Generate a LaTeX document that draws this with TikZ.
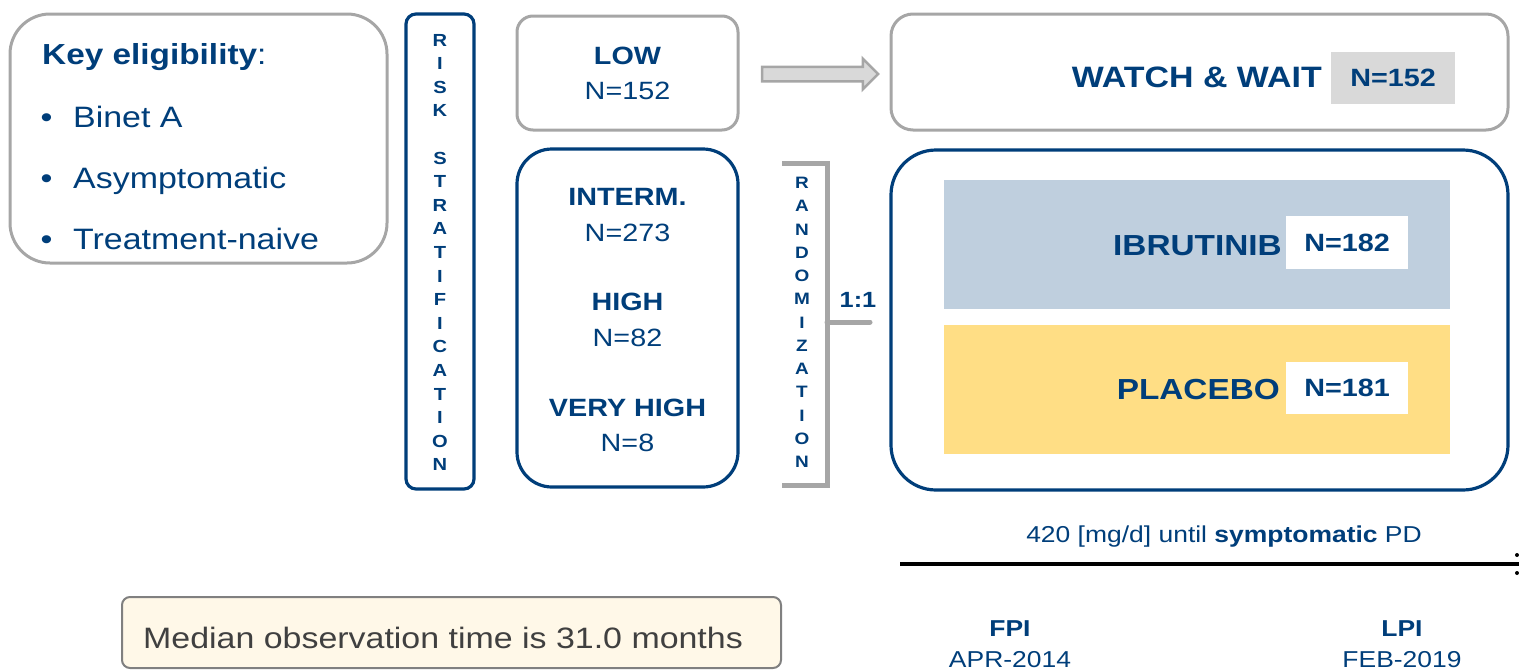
\documentclass[tikz,border=0pt]{standalone}
\usepackage{fontspec}
\setmainfont[FakeStretch=1.15]{Liberation Sans}
\usetikzlibrary{shapes.arrows}
\definecolor{myblue}{RGB}{0,62,122}
\definecolor{grayb}{RGB}{166,166,166}
\definecolor{ltblue}{RGB}{191,207,222}
\definecolor{myyellow}{RGB}{255,222,133}
\definecolor{ngray}{RGB}{217,217,217}
\definecolor{cream}{RGB}{255,248,232}
\definecolor{dgray}{RGB}{64,64,64}
\definecolor{mgray}{RGB}{128,128,128}
\tikzset{
  txt/.style={inner sep=0pt, text=myblue},
  gbox/.style={draw=grayb, line width=3pt, rounded corners=#1, inner sep=0pt},
  bbox/.style={draw=myblue, line width=3.2pt, rounded corners=#1, inner sep=0pt},
  panel/.style={inner sep=0pt, draw=none},
  fA/.style={font=\fontsize{29.5}{34}\selectfont},
  fB/.style={font=\fontsize{25}{30}\selectfont},
  fBb/.style={font=\bfseries\fontsize{25}{30}\selectfont},
  fC/.style={font=\bfseries\fontsize{29.5}{34}\selectfont},
  fD/.style={font=\fontsize{23}{28}\selectfont},
  fDb/.style={font=\bfseries\fontsize{23}{28}\selectfont},
  vlet/.style={inner sep=0pt, text=myblue, font=\bfseries\fontsize{17.5}{20}\selectfont},
}
\begin{document}
\begin{tikzpicture}[x=1pt,y=-1pt]
\useasboundingbox (0,0) rectangle (1519,672);
% Key eligibility
\node[gbox=40pt, minimum width=377pt, minimum height=249pt] (key) at (198.5,138.5) {};
\node[txt, font=\fontsize{29}{34}\selectfont, anchor=base west] (keyt) at (42,64) {\textbf{Key eligibility}:};
\node[txt, fA, anchor=base] (b1) at (46.5,127) {\textbullet};
\node[txt, fA, anchor=base west] (k1) at (73,127) {Binet A};
\node[txt, fA, anchor=base] (b2) at (46.5,188) {\textbullet};
\node[txt, fA, anchor=base west] (k2) at (73,188) {Asymptomatic};
\node[txt, fA, anchor=base] (b3) at (46.5,249) {\textbullet};
\node[txt, fA, anchor=base west] (k3) at (73,249) {Treatment-naive};
% Risk stratification
\node[bbox=10pt, minimum width=68pt, minimum height=475pt] (risk) at (440,251.5) {};
\foreach \l [count=\i from 0] in {R,I,S,K,{},S,T,R,A,T,I,F,I,C,A,T,I,O,N}
  \node[vlet] (risk\i) at (440,40+23.6*\i) {\l};
% Low
\node[gbox=16pt, minimum width=221pt, minimum height=114pt] (low) at (627.5,73) {};
\node[txt, fBb] (lowa) at (627.5,56) {LOW};
\node[txt, fB] (lowb) at (627.5,91) {N=152};
% arrow
\node[single arrow, draw=grayb, fill=ngray, line width=2.5pt, minimum height=116pt,
      minimum width=30pt, inner sep=6pt, single arrow head extend=8pt] (arr) at (816.5,74) {};
% Watch & wait
\node[gbox=22pt, minimum width=617pt, minimum height=116pt] (watch) at (1199.5,72) {};
\node[txt, fC, anchor=east] (watcht) at (1322,77) {WATCH \& WAIT};
\node[panel, fill=ngray, minimum width=124pt, minimum height=52pt] (n152) at (1393,78) {};
\node[txt, fBb] (n152t) at (1393,78) {N=152};
% Interm
\node[bbox=35pt, minimum width=221pt, minimum height=338pt] (interm) at (627.5,318) {};
\node[txt, fBb] (i1) at (627.5,197) {INTERM.};
\node[txt, fB] (i2) at (627.5,233) {N=273};
\node[txt, fBb] (h1) at (627.5,302) {HIGH};
\node[txt, fB] (h2) at (627.5,338) {N=82};
\node[txt, fBb] (v1) at (627.5,408) {VERY HIGH};
\node[txt, fB] (v2) at (627.5,443) {N=8};
% Randomization bracket
\coordinate (bt) at (782,163);
\coordinate (bb) at (782,485);
\coordinate (bm) at (827,322);
\coordinate (bs) at (870,322);
\draw[grayb, line width=5pt] (bt) -| (bb -| bm) -- (bb);
\draw[grayb, line width=5pt, line cap=round] (bm) -- (bs);
\foreach \l [count=\i from 0] in {R,A,N,D,O,M,I,Z,A,T,I,O,N}
  \node[vlet, font=\bfseries\fontsize{16.5}{20}\selectfont] (rand\i) at (802,183+23.25*\i) {\l};
\node[txt, font=\bfseries\fontsize{22}{26}\selectfont] (ratio) at (858,300) {1:1};
% Arms
\node[bbox=45pt, minimum width=617pt, minimum height=340pt] (arm) at (1199.5,320) {};
\node[panel, fill=ltblue, minimum width=506pt, minimum height=129pt] (ibr) at (1197,244.5) {};
\node[panel, fill=myyellow, minimum width=506pt, minimum height=129pt] (pla) at (1197,389.5) {};
\node[txt, font=\bfseries\fontsize{29}{34}\selectfont, anchor=east] (ibrt) at (1282,246) {IBRUTINIB};
\node[txt, font=\bfseries\fontsize{29}{34}\selectfont, anchor=east] (plat) at (1280,390) {PLACEBO};
\node[panel, fill=white, minimum width=122pt, minimum height=53pt] (n182) at (1347,242.5) {};
\node[txt, fBb] (n182t) at (1347,242.5) {N=182};
\node[panel, fill=white, minimum width=122pt, minimum height=52pt] (n181) at (1347,388) {};
\node[txt, fBb] (n181t) at (1347,388) {N=181};
% timeline
\coordinate (tl0) at (900,564);
\coordinate (tl1) at (1519,564);
\draw[black, line width=4pt] (tl0) -- (tl1);
\fill[black] (1517,555) circle (2pt) (1517,573) circle (2pt);
\node[txt, font=\fontsize{23}{27}\selectfont] (dose) at (1224,537) {420 [mg/d] until \textbf{symptomatic} PD};
\node[txt, fDb] (fpi) at (1010,629) {FPI};
\node[txt, fD] (fpid) at (1010,660) {APR-2014};
\node[txt, fDb] (lpi) at (1402,629) {LPI};
\node[txt, fD] (lpid) at (1402,660) {FEB-2019};
% median
\node[draw=mgray, fill=cream, line width=2pt, rounded corners=8pt, minimum width=659pt, minimum height=71pt, inner sep=0pt] (med) at (451.5,632.5) {};
\node[inner sep=0pt, text=dgray, font=\fontsize{29.5}{34}\selectfont, anchor=west] (medt) at (143,638) {Median observation time is 31.0 months};
\end{tikzpicture}
\end{document}
